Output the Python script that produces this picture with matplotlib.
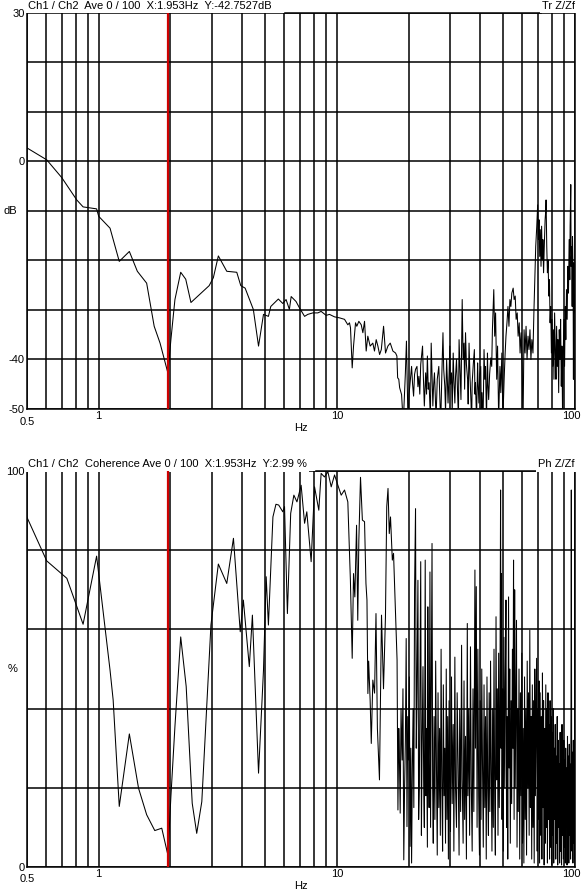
import numpy as np
import matplotlib.pyplot as plt
import matplotlib.transforms as mtransforms
from matplotlib.ticker import LogLocator, NullFormatter

plt.rcParams['font.family'] = ['Liberation Sans', 'DejaVu Sans']
plt.rcParams['font.size'] = 8

# ---- transmissibility Z/Zf (dB) ----
tr_freq = [0.5, 0.605, 0.70, 0.809, 0.86, 0.98, 1.0, 1.116, 1.22, 1.345, 1.453, 1.59, 1.71, 1.81,
           1.953, 2.01, 2.09, 2.21, 2.32, 2.44, 2.91, 3.03, 3.18, 3.45, 3.80, 3.95, 4.12, 4.46,
           4.69, 4.92, 5.16, 5.28, 5.68, 5.93, 6.12, 6.32, 6.43, 6.74, 6.97, 7.32, 7.55, 7.93,
           8.32, 8.59, 9.02, 9.31, 9.78, 10.26, 10.77, 11.12, 11.30, 11.41, 11.60, 11.75, 11.98,
           12.13, 12.37, 12.66, 12.86, 13.07, 13.28, 13.49, 13.80, 14.16, 14.39, 14.63, 14.87,
           15.12, 15.37, 15.71, 16.01, 16.38, 16.76, 17.19, 17.64, 17.87, 18.0, 18.2, 18.35,
           18.7, 19.0, 19.4, 19.6, 19.9,
           20.1, 20.3, 20.6, 20.8, 21.0, 21.2, 21.4, 21.7, 21.9, 22.1, 22.3, 22.5, 22.9, 23.1,
           23.3, 23.6, 23.8, 24.0, 24.2, 24.4, 24.7, 24.9, 25.1, 25.3, 25.5, 25.7, 25.9, 26.1,
           26.4, 26.8, 27.0, 27.3, 27.6, 27.9, 28.1, 28.4, 28.6, 28.9, 29.1, 29.3, 29.6, 29.8,
           30.0, 30.3, 30.5, 30.8, 31.0, 31.3, 31.5, 31.8, 32.1, 32.4, 32.6, 32.9, 33.2, 33.4,
           33.6, 33.9, 34.2, 34.4, 34.7, 35.0, 35.4, 35.6, 35.9, 36.2, 36.6, 36.8, 37.0, 37.4,
           37.8, 38.0, 38.2, 38.6, 39.0, 39.2, 39.5, 39.8, 40.2, 40.4, 40.7, 41.1, 41.5, 41.8,
           42.1, 42.5, 42.9, 43.1, 43.4, 43.8, 44.3,
           44.7, 45.0, 45.6, 46.0, 46.4, 46.9, 47.3, 47.8, 48.4, 48.8, 49.3, 49.8, 50.4, 50.9,
           51.3, 51.8, 52.3, 52.8, 53.3, 53.8, 54.3, 55.0, 55.5, 56.1, 56.6, 57.2, 57.7, 58.3,
           58.8, 59.4, 60.0, 60.5, 61.1, 61.7, 62.3, 62.9, 63.5, 64.1, 64.7, 65.3, 65.9, 66.6,
           67.2, 67.8, 68.4, 69.1, 69.7, 70.2, 70.6, 71.1, 71.5, 72.0, 72.4, 72.9, 73.3, 73.8,
           74.3, 74.9, 75.4, 75.6, 76.1, 76.6, 77.1, 77.6, 78.1, 78.6, 79.1, 79.6, 80.1, 80.6,
           81.1, 81.6, 82.1, 82.7, 83.2, 83.7, 84.3, 84.8, 85.4, 85.9, 86.5, 87.0, 87.6, 88.1,
           88.7, 89.3, 89.8, 90.4, 91.0, 91.5, 92.1, 92.7, 93.3, 93.9, 94.5, 95.1, 95.4, 96.0,
           96.3, 97.0, 97.3, 97.6, 98.2, 98.5, 98.8, 99.1, 100.0]
tr_db = [2.7, 0.3, -3.3, -7.8, -9.2, -9.6, -11.1, -13.5, -20.2, -18.2, -22.2, -24.6, -33.3, -36.7,
         -42.75, -36.0, -27.9, -22.4, -23.8, -28.5, -25.1, -23.5, -19.1, -22.2, -22.4, -25.1, -25.6, -29.9,
         -37.3, -30.9, -31.3, -29.3, -27.8, -28.7, -27.9, -29.9, -27.3, -28.3, -29.6, -31.3, -30.9, -30.6,
         -30.6, -30.3, -31.1, -30.9, -31.4, -31.6, -31.9, -33.0, -32.6, -33.6, -41.7, -37.3, -32.6,
         -33.3, -32.3, -33.0, -34.6, -32.3, -38.3, -35.3, -37.3, -36.7, -38.3, -36.0, -37.3,
         -39.0, -38.0, -33.3, -38.7, -37.3, -36.7, -38.3, -38.7, -39.3, -43.7, -44.0, -45.7,
         -47.1, -53.0, -42.7, -36.3, -53.0,
         -47.0, -44.7, -41.4, -45.0, -47.4, -43.0, -42.0, -41.4, -45.5, -43.4, -47.0, -41.0, -37.3, -44.0,
         -49.4, -42.7, -47.0, -39.3, -46.0, -44.7, -52.0, -36.7, -43.0, -49.4, -45.0, -42.7, -47.5, -52.0,
         -44.0, -41.4, -46.0, -53.0, -43.0, -34.6, -42.0, -45.4, -50.5, -40.0, -44.0, -48.8, -43.0, -37.3,
         -45.0, -42.7, -51.0, -38.7, -44.0, -48.8, -43.5, -40.0, -46.0, -52.0, -36.0, -42.0, -48.1, -38.0,
         -27.9, -40.0, -36.7, -46.0, -34.6, -41.0, -44.0, -49.0, -36.7, -43.0, -48.8, -53.0, -44.7, -41.0,
         -38.0, -47.0, -44.7, -52.0, -40.7, -45.0, -48.8, -43.0, -41.4, -50.0, -46.7, -53.0, -38.0, -44.0,
         -41.4, -52.0, -38.7, -45.0, -48.1, -43.0, -39.7,
         -41.4, -34.0, -25.9, -35.3, -30.6, -44.0, -37.3, -52.0, -41.4, -46.7, -38.7, -52.0, -44.0, -38.7,
         -35.3, -32.6, -29.3, -33.3, -27.9, -29.3, -26.6, -25.6, -27.9, -27.2, -31.9, -30.6, -35.3, -32.6,
         -38.7, -34.6, -41.4, -53.0, -34.0, -38.7, -33.3, -40.0, -35.3, -38.0, -34.0, -40.0, -36.0, -38.7,
         -30.6, -23.9, -17.2, -13.1, -8.8, -15.8, -11.8, -19.2, -13.8, -21.2, -13.1, -19.9, -15.8, -22.5,
         -17.2, -11.8, -9.8, -7.8, -17.2, -22.5, -19.9, -27.2, -23.9, -32.6, -29.3, -38.7, -31.9, -41.4,
         -34.0, -44.0, -30.6, -38.7, -44.0, -33.3, -41.4, -36.0, -46.7, -34.0, -40.0, -31.9, -45.4, -37.3,
         -52.0, -38.7, -31.9, -41.4, -29.3, -36.0, -25.9, -31.9, -21.2, -26.6, -15.8, -23.9, -13.1, -4.7,
         -21.2, -17.2, -29.3, -15.2, -23.9, -44.0, -20.5, -30.6, -27.0]

# ---- coherence (%) ----
coh_freq = [0.5, 0.605, 0.735, 0.86, 0.98, 1.116, 1.15, 1.22, 1.345, 1.47, 1.59, 1.72, 1.84, 1.953,
            2.01, 2.09, 2.21, 2.33, 2.47, 2.58, 2.71, 2.96, 3.18, 3.45, 3.68, 3.93, 4.05, 4.29,
            4.42, 4.69, 4.92, 5.05, 5.16, 5.39, 5.55, 5.7, 5.93, 6.03, 6.2, 6.4, 6.6, 6.8, 7.08,
            7.32, 7.48, 7.8, 8.06, 8.4, 8.59, 8.87, 9.17, 9.47, 9.78, 10.1, 10.43, 10.77, 11.12,
            11.4, 11.6, 11.75, 11.9, 12.1, 12.24, 12.37, 12.57, 12.8, 13.07, 13.25, 13.38, 13.5,
            13.6, 13.8, 13.95, 14.16, 14.4, 14.6, 14.8, 15.1, 15.4, 15.7, 16.0, 16.2, 16.4, 16.6,
            16.8, 17.1, 17.3, 17.6, 17.9,
            18.05, 18.2, 18.3, 18.45, 18.6, 18.8, 18.95, 19.1, 19.25, 19.4, 19.55, 19.7, 19.85,
            20.0, 20.15, 20.3, 20.45, 20.6, 20.75, 20.9, 21.05, 21.2, 21.4, 21.55, 21.7, 21.9,
            22.05, 22.2, 22.35, 22.5, 22.65, 22.8, 23.0, 23.15, 23.3, 23.5, 23.65, 23.8, 24.0,
            24.1, 24.25, 24.4, 24.6, 24.75, 24.9, 25.1, 25.25, 25.4, 25.6, 25.8, 26.0, 26.2,
            26.4, 26.6, 26.8, 27.0, 27.2, 27.4, 27.6, 27.8, 28.0, 28.2, 28.4, 28.6, 28.8, 29.0,
            29.2, 29.4, 29.6, 29.8, 30.0, 30.3, 30.5, 30.8, 31.0, 31.3, 31.5, 31.8, 32.0, 32.3,
            32.6, 32.8, 33.1, 33.4, 33.6, 33.9, 34.2, 34.4, 34.7, 35.0, 35.3, 35.5, 35.8, 36.1,
            36.4, 36.7, 37.0, 37.3, 37.6, 38.0, 38.2, 38.5, 38.8, 39.1, 39.4, 39.7, 40.0, 40.3,
            40.6, 40.9, 41.2, 41.5, 41.8, 42.1, 42.4, 42.7, 43.0, 43.3, 43.6, 43.9, 44.2, 44.5,
            44.8, 45.1, 45.4, 45.7, 46.0, 46.3, 46.6, 46.9, 47.2, 47.5, 47.8, 48.1, 48.4, 48.7,
            48.9, 49.1, 49.4, 49.7, 50.0, 50.3, 50.7, 51.0, 51.3, 51.6, 51.9, 52.2, 52.6, 52.9,
            53.2, 53.5, 53.9, 54.2, 54.6, 54.9, 55.2, 55.5, 55.8, 56.1, 56.5, 56.8, 57.1, 57.5,
            57.8, 58.2, 58.6, 59.0, 59.4, 59.8, 60.2, 60.6, 61.0, 61.4, 61.8, 62.2, 62.6, 63.0,
            63.4, 63.8, 64.2, 64.6, 65.0, 65.4, 65.8, 66.2, 66.6, 67.0, 67.4, 67.8, 68.2, 68.6,
            69.0, 69.4, 69.8, 70.2, 70.6, 71.0, 71.4, 71.8, 72.2, 72.6, 73.0, 73.4, 73.8, 74.2,
            74.6, 75.0, 75.4, 75.8, 76.2, 76.6, 77.0, 77.4, 77.8, 78.2, 78.6, 79.0, 79.4, 79.8,
            80.2, 80.6, 81.0, 81.4, 81.8, 82.2, 82.6, 83.0, 83.4, 83.8, 84.2, 84.6, 85.0, 85.4,
            85.8, 86.2, 86.6, 87.0, 87.4, 87.8, 88.2, 88.6, 89.0, 89.4, 89.8, 90.2, 90.6, 91.0,
            91.4, 91.8, 92.2, 92.6, 93.0, 93.4, 93.8, 94.2, 94.6, 95.0, 95.4, 95.8, 96.2, 96.5,
            96.8, 97.2, 97.6, 98.0, 98.4, 98.8, 99.2, 99.6, 100.0]
coh_pct = [88.3, 77.3, 72.9, 61.3, 78.5, 49.7, 42.2, 15.3, 33.6, 19.9, 13.2, 9.2, 9.8, 2.99,
           17.8, 35.5, 58.1, 45.6, 16.1, 8.5, 16.5, 61.1, 76.5, 71.6, 83.0, 59.4, 67.4, 50.6,
           63.6, 23.7, 49.7, 73.3, 61.1, 88.4, 91.6, 91.4, 89.7, 91.0, 64.0, 89.3, 93.9, 92.2, 96.4,
           86.8, 89.7, 77.1, 96.0, 90.1, 99.4, 98.5, 99.8, 96.0, 99.0, 96.4, 93.9, 95.2, 92.2,
           72.4, 52.7, 74.1, 68.2, 86.3, 62.3, 82.5, 98.4, 87.6, 87.2, 71.6, 67.4, 43.8,
           52.0, 42.0, 31.2, 47.2, 43.9, 64.0, 35.0, 22.0, 63.6, 45.0, 63.2, 91.0, 95.6, 84.2,
           88.4, 77.5, 79.2, 65.7, 52.3,
           14.4, 35.0, 28.7, 13.6, 40.0, 27.0, 45.0, 1.8, 20.0, 32.1, 57.7, 10.2, 38.0,
           27.0, 48.0, 5.2, 30.0, 1.0, 25.0, 40.0, 15.0, 70.0, 90.5, 30.0, 45.0, 72.4,
           12.0, 20.0, 48.0, 77.1, 8.0, 30.0, 50.6, 22.0, 10.0, 77.5, 18.0, 35.0, 5.0,
           65.7, 28.0, 15.0, 74.5, 10.0, 40.0, 81.7, 20.0, 6.0, 38.0, 12.0, 52.0, 25.0,
           3.0, 44.0, 15.0, 35.0, 8.0, 55.0, 20.0, 4.0, 46.0, 18.0, 30.0, 6.0, 50.0, 12.0,
           38.0, 2.0, 42.0, 22.0, 9.0, 48.0, 16.0, 36.0, 4.0, 53.0, 20.0, 10.0, 44.0, 26.0,
           3.0, 40.0, 14.0, 56.0, 22.0, 6.0, 47.0, 12.0, 33.0, 2.0, 61.5, 18.0, 40.0, 8.0,
           55.6, 20.0, 4.0, 45.0, 14.0, 75.0, 30.0, 70.8, 10.0, 55.0, 18.0, 3.0, 42.0, 12.0,
           50.0, 25.0, 5.0, 46.0, 15.0, 38.0, 2.0, 48.0, 20.0, 8.0, 44.0, 14.0, 52.0, 24.0,
           4.0, 40.0, 10.0, 55.0, 18.0, 3.0, 63.2, 22.0, 45.0, 8.0, 54.0, 15.0, 40.0, 95.2,
           30.0, 74.1, 12.0, 45.0, 4.0, 58.0, 20.0, 48.0, 67.4, 10.0, 38.0, 2.0, 68.2, 25.0,
           50.0, 6.0, 42.0, 16.0, 55.0, 30.0, 77.5, 12.0, 70.0, 20.0, 45.0, 62.3, 5.0, 40.0,
           14.0, 50.0, 2.0, 44.0, 18.0, 54.0, 6.0, 35.0, 1.0, 48.0, 12.0, 40.0, 3.0, 52.0,
           20.0, 44.0, 8.0, 59.8, 15.0, 38.0, 2.0, 46.0, 10.0, 42.0, 1.0, 50.0, 18.0, 36.0,
           52.7, 4.0, 40.0, 12.0, 47.0, 1.0, 44.0, 8.0, 38.0, 2.0, 49.0, 15.0, 42.0, 0.5,
           35.0, 6.0, 46.0, 10.0, 40.0, 1.0, 44.0, 12.0, 36.0, 2.0, 42.0, 5.0, 38.0, 0.5,
           34.0, 8.0, 40.0, 1.0, 30.0, 12.0, 36.0, 2.0, 28.0, 6.0, 38.0, 0.5, 32.0, 10.0,
           26.0, 1.0, 34.0, 4.0, 30.0, 0.5, 36.0, 8.0, 28.0, 2.0, 32.0, 5.0, 27.0, 1.0,
           30.0, 10.0, 25.0, 0.5, 33.0, 6.0, 28.0, 1.0, 31.0, 8.0, 26.0, 2.0, 40.0, 95.2,
           30.0, 4.0, 29.0, 1.0, 32.0, 6.0, 27.0, 2.0, 90.0]

cursor_hz = 1.953

tr_yticks = [-50, -40, -30, -20, -10, 0, 10, 20, 30]
tr_ylabels = ['-50', '-40', '', '', '', '0', '', '', '30']
coh_yticks = [0, 20, 40, 60, 80, 100]
coh_ylabels = ['0', '', '', '', '', '100']

W, H = 584, 894
fig = plt.figure(figsize=(W / 100, H / 100), dpi=100)
ax1 = fig.add_axes([27 / W, 1 - 409 / H, 548 / W, 396.3 / H])
ax2 = fig.add_axes([27 / W, 1 - 867 / H, 548 / W, 396 / H])


def style_axes(ax, yticks, ylabels, ylabel, ylabel_x, title, tag, border):
    ax.set_xscale('log')
    ax.set_xlim(0.5, 100)
    ax.set_ylim(yticks[0], yticks[-1])
    ax.set_yticks(yticks, ylabels)
    ax.set_xticks([1, 10, 100], ['1', '10', '100'])
    ax.xaxis.set_minor_locator(LogLocator(base=10, subs=np.arange(2, 10)))
    ax.xaxis.set_minor_formatter(NullFormatter())
    ax.tick_params(which='both', length=0, pad=1.5, labelsize=8)
    ax.grid(True, which='both', axis='x', color='black', lw=1.1)
    ax.grid(True, which='major', axis='y', color='black', lw=1.1)
    ax.set_axisbelow(True)
    for side in ['left', 'right', 'bottom']:
        ax.spines[side].set_linewidth(1.1)
    ax.spines['top'].set_visible(False)
    ax.plot(border, [1, 1], transform=ax.transAxes, color='black', lw=1.1, clip_on=False)

    # nudge the "100" label so it stays inside the figure
    lab = ax.get_xticklabels()[-1]
    lab.set_transform(lab.get_transform() + mtransforms.ScaledTranslation(-4 / 100, 0, fig.dpi_scale_trans))

    trans = mtransforms.blended_transform_factory(ax.transData, ax.transAxes)
    ax.text(0.5, -12.5 / 396, '0.5', transform=trans, ha='center', va='center')
    ax.text(0.5, -19 / 396, 'Hz', transform=ax.transAxes, ha='center', va='center')
    ax.text(ylabel_x, 0.5, ylabel, transform=ax.transAxes, ha='left', va='center')

    ax.text(0.0015, 1 + 6.5 / 396, title, transform=ax.transAxes, ha='left', va='center',
            bbox=dict(facecolor='white', edgecolor='none', pad=1.5))
    ax.text(1.0, 1 + 6.5 / 396, tag, transform=ax.transAxes, ha='right', va='center',
            bbox=dict(facecolor='white', edgecolor='none', pad=1.5))

    # cursor: bright red band with a thin dark core
    ax.axvline(cursor_hz, color='#e00000', lw=1.6, zorder=4)
    ax.axvline(cursor_hz, color='#8a0000', lw=0.3, zorder=4)


ax1.plot(tr_freq, tr_db, color='black', lw=0.75, zorder=3)
style_axes(ax1, tr_yticks, tr_ylabels, 'dB', -24 / 548,
           'Ch1 / Ch2  Ave 0 / 100  X:1.953Hz  Y:-42.7527dB', 'Tr Z/Zf', [0.471, 0.938])

ax2.plot(coh_freq, coh_pct, color='black', lw=0.75, zorder=3)
style_axes(ax2, coh_yticks, coh_ylabels, '%', -19 / 548,
           'Ch1 / Ch2  Coherence Ave 0 / 100  X:1.953Hz  Y:2.99 %', 'Ph Z/Zf', [0.527, 0.932])

fig.savefig('out.png', dpi=100)
